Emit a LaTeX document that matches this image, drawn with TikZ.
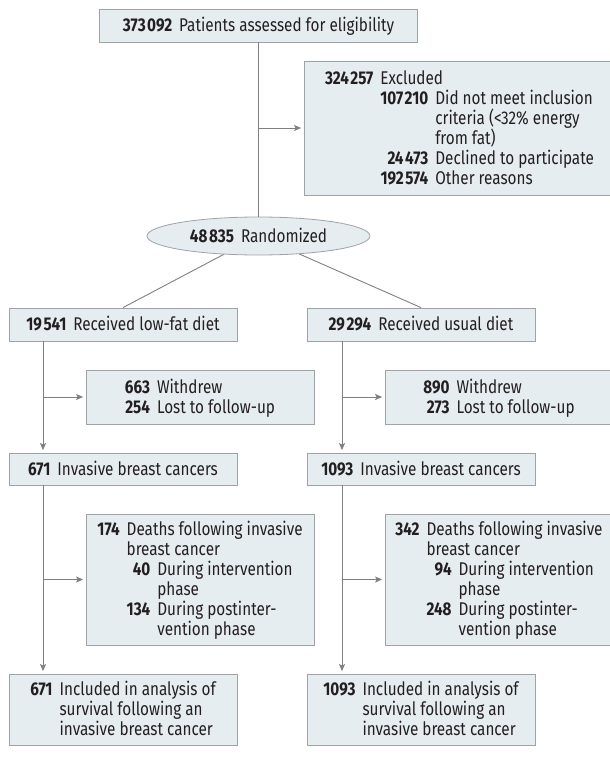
\documentclass[tikz,border=0pt]{standalone}
\usepackage{fontspec}
\setmainfont{Fira Sans}[FakeStretch=0.83]
\usetikzlibrary{arrows.meta,shapes.geometric}

\definecolor{boxfill}{RGB}{230,237,241}
\definecolor{boxline}{RGB}{160,163,166}
\definecolor{linkgray}{RGB}{128,128,128}
\definecolor{txt}{RGB}{35,31,32}

\newcommand{\boxfont}{\fontsize{18.5}{20}\selectfont\setbox\strutbox\hbox{\vrule height16bp depth4bp width0pt}}
\newcommand{\thsep}{\hspace{1.5bp}}

\begin{document}
\begin{tikzpicture}[x=1bp,y=-1bp,
	box/.style={draw=boxline,fill=boxfill,line width=0.8bp,inner sep=0pt,text=txt,font=\boxfont},
	colbox/.style={box,minimum width=228bp},
	link/.style={draw=linkgray,line width=0.9bp},
	arr/.style={link,-{Stealth[length=7bp,width=6bp,inset=1.5bp]},shorten >=2.5bp}]
	\useasboundingbox (0,0) rectangle (610,766);

	% enrollment
	\node[box,minimum width=318bp,minimum height=33bp] (screen) at (258.5,25.5)
		{\strut\textbf{373\thsep092}\hspace{7bp}Patients assessed for eligibility};
	\node[box,minimum width=311bp,minimum height=134bp] (excl) at (459.5,128)
		{\begin{tabular}{@{}r@{\hspace{7bp}}r@{\hspace{7bp}}l@{}}
		\textbf{324\thsep257} & \multicolumn{2}{@{}l@{}}{Excluded}\\
		& \textbf{107\thsep210} & Did not meet inclusion\\
		& & criteria (<32\% energy\\
		& & from fat)\\
		& \textbf{24\thsep473} & Declined to participate\\
		& \textbf{192\thsep574} & Other reasons
		\end{tabular}};
	\node[box,ellipse,minimum width=223bp,minimum height=38bp] (rand) at (258.5,236)
		{\strut\textbf{48\thsep835}\hspace{7bp}Randomized};

	% allocation
	\node[colbox,minimum height=33bp] (lowfat) at (123,324.5)
		{\strut\textbf{19\thsep541}\hspace{7bp}Received low-fat diet};
	\node[colbox,minimum height=33bp] (usual) at (421,324.5)
		{\strut\textbf{29\thsep294}\hspace{7bp}Received usual diet};

	\node[colbox,minimum height=54bp] (wd1) at (200,397)
		{\begin{tabular}{@{}r@{\hspace{7bp}}l@{}}
		\textbf{663} & Withdrew\\
		\textbf{254} & Lost to follow-up
		\end{tabular}};
	\node[colbox,minimum height=54bp] (wd2) at (499,397)
		{\begin{tabular}{@{}r@{\hspace{7bp}}l@{}}
		\textbf{890} & Withdrew\\
		\textbf{273} & Lost to follow-up
		\end{tabular}};

	\node[colbox,minimum height=32bp] (inv1) at (123,469)
		{\strut\textbf{671}\hspace{7bp}Invasive breast cancers};
	\node[colbox,minimum height=32bp] (inv2) at (421,469)
		{\strut\textbf{1093}\hspace{7bp}Invasive breast cancers};

	\node[colbox,minimum height=131bp] (dth1) at (200,579.5)
		{\begin{tabular}{@{}r@{\hspace{7bp}}r@{\hspace{7bp}}l@{}}
		\textbf{174} & \multicolumn{2}{@{}l@{}}{Deaths following invasive}\\
		& \multicolumn{2}{@{}l@{}}{breast cancer}\\
		& \textbf{40} & During intervention\\
		& & phase\\
		& \textbf{134} & During postinter-\\
		& & vention phase
		\end{tabular}};
	\node[colbox,minimum height=131bp] (dth2) at (499,579.5)
		{\begin{tabular}{@{}r@{\hspace{7bp}}r@{\hspace{7bp}}l@{}}
		\textbf{342} & \multicolumn{2}{@{}l@{}}{Deaths following invasive}\\
		& \multicolumn{2}{@{}l@{}}{breast cancer}\\
		& \textbf{94} & During intervention\\
		& & phase\\
		& \textbf{248} & During postinter-\\
		& & vention phase
		\end{tabular}};

	\node[colbox,minimum height=71bp] (inc1) at (123,709.5)
		{\begin{tabular}{@{}r@{\hspace{7bp}}l@{}}
		\textbf{671} & Included in analysis of\\
		& survival following an\\
		& invasive breast cancer
		\end{tabular}};
	\node[colbox,minimum height=71bp] (inc2) at (421,709.5)
		{\begin{tabular}{@{}r@{\hspace{7bp}}l@{}}
		\textbf{1093} & Included in analysis of\\
		& survival following an\\
		& invasive breast cancer
		\end{tabular}};

	% connectors
	\coordinate (lx) at (43,0);
	\coordinate (rx) at (342,0);
	\draw[link] (screen) -- (rand);
	\draw[arr] (screen.south |- excl.west) -- (excl.west);
	\draw[link] (rand) -- (lowfat.north);
	\draw[link] (rand) -- (usual.north);

	\draw[arr] (lowfat.south -| lx) -- (inv1.north -| lx);
	\draw[arr] (lx |- wd1.west) -- (wd1.west);
	\draw[arr] (inv1.south -| lx) -- (inc1.north -| lx);
	\draw[arr] (lx |- dth1.west) -- (dth1.west);

	\draw[arr] (usual.south -| rx) -- (inv2.north -| rx);
	\draw[arr] (rx |- wd2.west) -- (wd2.west);
	\draw[arr] (inv2.south -| rx) -- (inc2.north -| rx);
	\draw[arr] (rx |- dth2.west) -- (dth2.west);
\end{tikzpicture}
\end{document}
